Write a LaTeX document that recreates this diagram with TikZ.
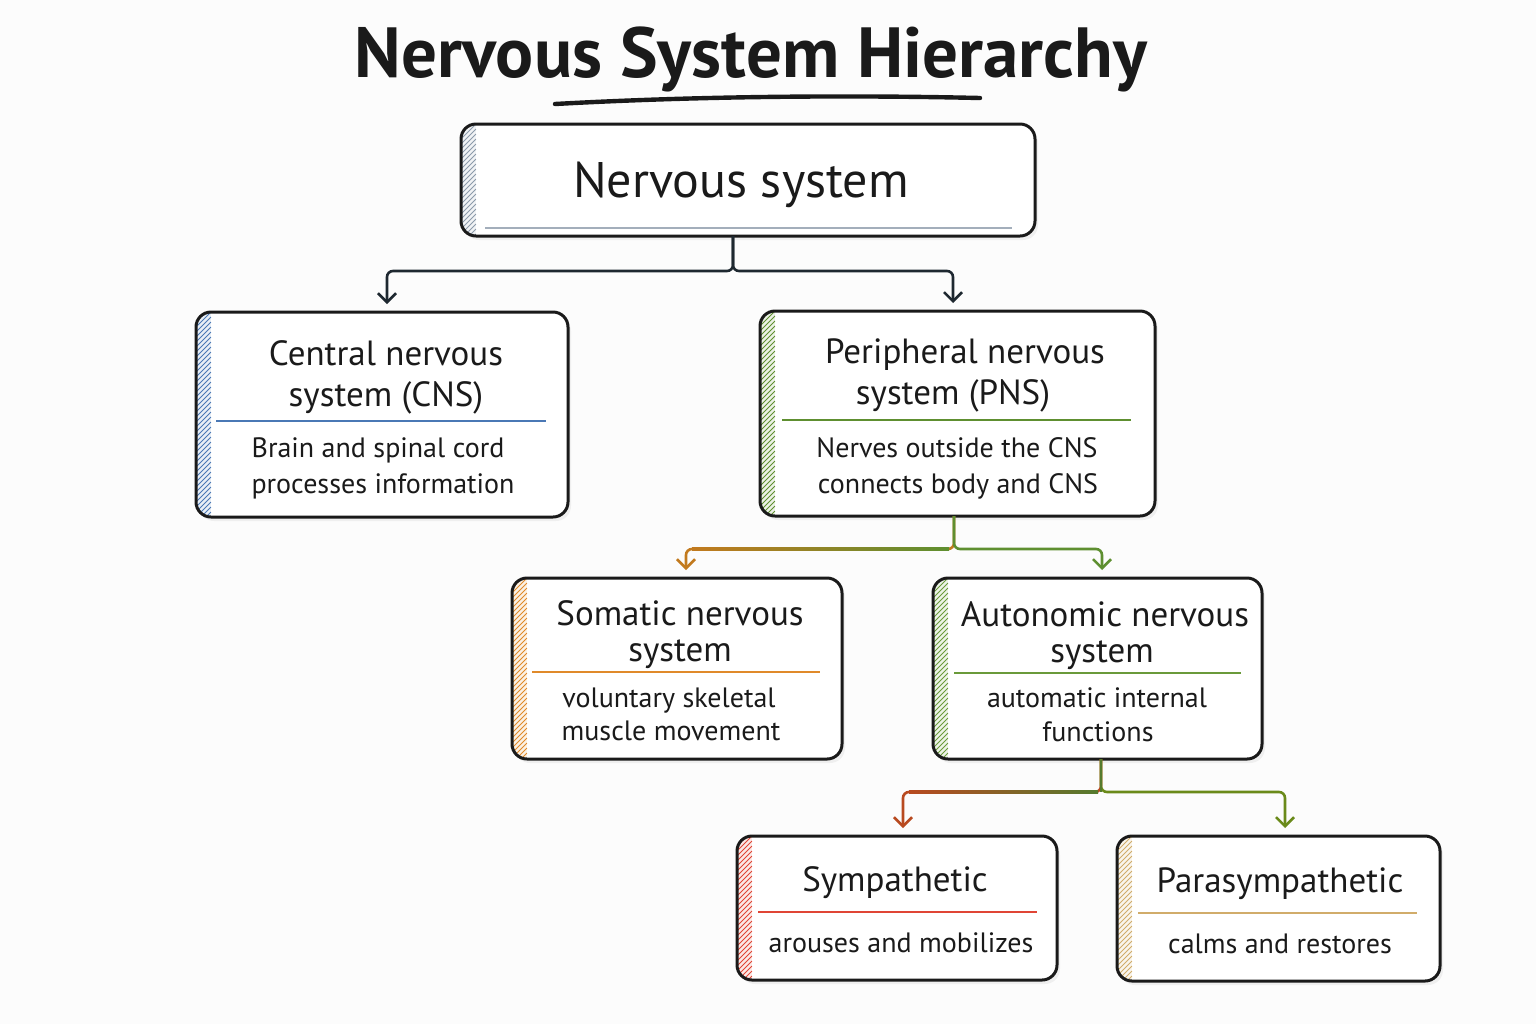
\documentclass[tikz,border=0pt]{standalone}
\usepackage{fontspec}
\setmainfont{PT Sans}
\usetikzlibrary{arrows.meta,fit,calc}
\definecolor{ink}{HTML}{1A1A1A}
\definecolor{conndark}{HTML}{1E2830}
\definecolor{rootgrey}{HTML}{8C9AAA}
\definecolor{cnsblue}{HTML}{4A78B5}
\definecolor{pnsgreen}{HTML}{5E8F30}
\definecolor{somorange}{HTML}{E08A2A}
\definecolor{somarrow}{HTML}{C27A1E}
\definecolor{autgreen}{HTML}{6A9A3A}
\definecolor{symred}{HTML}{E04535}
\definecolor{symarrow}{HTML}{B84A20}
\definecolor{partan}{HTML}{D1AC6A}
\definecolor{parolive}{HTML}{6A8A1A}
\definecolor{bg}{HTML}{FCFCFC}
\tikzset{
  boxframe/.style={draw=ink, line width=1.5pt, rounded corners=7.5pt, inner sep=0pt, outer sep=0pt},
  ttl/.style={font=\fontsize{17.5}{21}\selectfont, text=ink, inner sep=0pt, anchor=base},
  dsc/.style={font=\fontsize{14}{17}\selectfont, text=ink, inner sep=0pt, anchor=base},
  conn/.style={line width=1.3pt, rounded corners=3pt, -{Straight Barb[length=4.5pt,width=9pt]}, shorten >=4pt},
}
\newcommand\hatchbox[6]{%
  \fill[black, opacity=0.05, rounded corners=7.5pt] (#2+3,#3+4) rectangle (#4+3,#5+4);
  \begin{scope}
    \clip[rounded corners=7.5pt] (#2,#3) rectangle (#4,#5);
    \fill[white] (#2,#3) rectangle (#4,#5);
    \clip (#2,#3) rectangle (#2+15,#5);
    \fill[#6!12] (#2,#3) rectangle (#2+15,#5);
    \foreach \k in {-10,-5,...,260} \draw[#6, line width=0.5pt] (#2,#3+\k+15) -- (#2+15,#3+\k);
  \end{scope}
  \node[boxframe, fit={(#2,#3) (#4,#5)}] (#1) {};
}
\begin{document}
\begin{tikzpicture}[x=0.5pt, y=-0.5pt]
\fill[bg] (0,0) rectangle (1536,1024);
\useasboundingbox (0,0) rectangle (1536,1024);

% title
\node[font=\fontsize{35.5}{40}\selectfont\bfseries, text=ink, inner sep=0pt, anchor=base] (title) at (751,77) {Nervous System Hierarchy};
\draw[ink, line width=2.2pt, line cap=round] (555,104) .. controls (700,96) and (850,95) .. (980,98);

% boxes
\hatchbox{root}{461}{124}{1035}{236}{rootgrey}
\draw[rootgrey!80, line width=0.8pt] (485,228) -- (1012,228);
\node[font=\fontsize{25}{30}\selectfont, text=ink, inner sep=0pt, anchor=base] (root-t) at (741,197) {Nervous system};

\hatchbox{cns}{196}{312}{568}{517}{cnsblue}
\draw[cnsblue, line width=1.2pt] (216,421) -- (546,421);
\node[ttl] (cns-t1) at (386,365) {Central nervous};
\node[ttl] (cns-t2) at (386,406) {system (CNS)};
\node[dsc] (cns-d1) at (378,457) {Brain and spinal cord};
\node[dsc] (cns-d2) at (383,493) {processes information};

\hatchbox{pns}{760}{311}{1155}{516}{pnsgreen}
\draw[pnsgreen, line width=1.2pt] (782,420) -- (1131,420);
\node[ttl] (pns-t1) at (965,363) {Peripheral nervous};
\node[ttl] (pns-t2) at (953,404) {system (PNS)};
\node[dsc] (pns-d1) at (957,457) {Nerves outside the CNS};
\node[dsc] (pns-d2) at (958,493) {connects body and CNS};

\hatchbox{som}{512}{578}{842}{759}{somorange}
\draw[somorange, line width=1.2pt] (532,672) -- (820,672);
\node[ttl] (som-t1) at (680,625) {Somatic nervous};
\node[ttl] (som-t2) at (680,661) {system};
\node[dsc] (som-d1) at (669,707) {voluntary skeletal};
\node[dsc] (som-d2) at (671,740) {muscle movement};

\hatchbox{aut}{933}{578}{1262}{759}{autgreen}
\draw[autgreen, line width=1.2pt] (954,673) -- (1241,673);
\node[ttl] (aut-t1) at (1105,626) {Autonomic nervous};
\node[ttl] (aut-t2) at (1102,662) {system};
\node[dsc] (aut-d1) at (1097,707) {automatic internal};
\node[dsc] (aut-d2) at (1098,741) {functions};

\hatchbox{sym}{737}{836}{1057}{980}{symred}
\draw[symred, line width=1.2pt] (758,912) -- (1037,912);
\node[ttl] (sym-t) at (895,891) {Sympathetic};
\node[dsc] (sym-d) at (901,952) {arouses and mobilizes};

\hatchbox{par}{1117}{836}{1440}{981}{partan}
\draw[partan, line width=1.2pt] (1138,913) -- (1417,913);
\node[ttl] (par-t) at (1280,892) {Parasympathetic};
\node[dsc] (par-d) at (1280,953) {calms and restores};

% connectors
\draw[conn, conndark] ([xshift=-7.5pt]root.south) -- ++(0,35) -| ([xshift=2.5pt]cns.north);
\draw[conn, conndark] ([xshift=-7.5pt]root.south) -- ++(0,35) -| ([xshift=-2.25pt]pns.north);

\draw[conn, somarrow] ([xshift=-1.75pt]pns.south) -- ++(0,33) -| ([xshift=4.5pt]som.north);
\draw[conn, pnsgreen] ([xshift=-1.75pt]pns.south) -- ++(0,33) -| ([xshift=2.25pt]aut.north);
\shade[left color=somarrow, right color=pnsgreen] (692,547.7) rectangle (949,550.3);

\draw[conn, symarrow] ([xshift=1.75pt]aut.south) -- ++(0,33) -| ([xshift=3pt]sym.north);
\draw[conn, parolive] ([xshift=1.75pt]aut.south) -- ++(0,33) -| ([xshift=3.25pt]par.north);
\shade[left color=symarrow, right color=autgreen!80!black] (909,790.7) rectangle (1098,793.3);
\draw[autgreen!80!black, line width=1.3pt] ([xshift=1.75pt]aut.south) -- ++(0,33);
\end{tikzpicture}
\end{document}
